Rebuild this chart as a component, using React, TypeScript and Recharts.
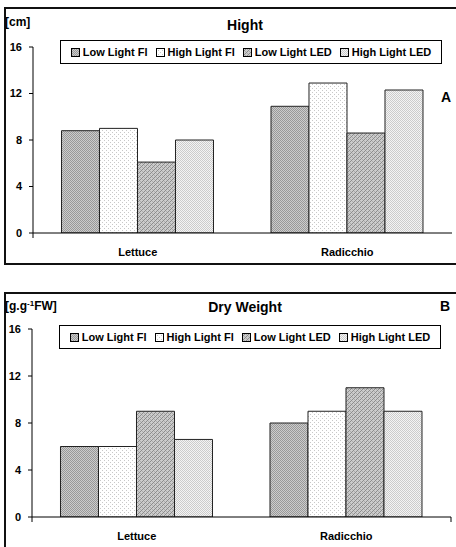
import React from "react";
import { BarChart, Bar, XAxis, YAxis } from "recharts";

const categories = ["Lettuce", "Radicchio"];
const seriesNames = ["Low Light Fl", "High Light Fl", "Low Light LED", "High Light LED"];
const seriesKeys = ["lowFl", "highFl", "lowLed", "highLed"];
const seriesFills = ["url(#pLowFl)", "url(#pHighFl)", "url(#pLowLed)", "url(#pHighLed)"];

const heightLowFl = [8.8, 10.9];
const heightHighFl = [9.0, 12.9];
const heightLowLed = [6.1, 8.6];
const heightHighLed = [8.0, 12.3];

const dryLowFl = [6.0, 8.0];
const dryHighFl = [6.0, 9.0];
const dryLowLed = [9.0, 11.0];
const dryHighLed = [6.6, 9.0];

const yTicks = [0, 4, 8, 12, 16];
const boundaryTicks = [0, 1, 2];

function buildData(a: number[], b: number[], c: number[], d: number[]) {
  return categories.map((name, i) => ({ name, lowFl: a[i], highFl: b[i], lowLed: c[i], highLed: d[i] }));
}

const heightData = buildData(heightLowFl, heightHighFl, heightLowLed, heightHighLed);
const dryData = buildData(dryLowFl, dryHighFl, dryLowLed, dryHighLed);

const FONT = "'Liberation Sans', Arial, sans-serif";
const tickStyle = { fontFamily: FONT, fontSize: 11, fontWeight: 700, fill: "#000" };

function Patterns() {
  return (
    <svg width={0} height={0} style={{ position: "absolute" }}>
      <defs>
        <pattern id="pLowFl" width={2} height={2} patternUnits="userSpaceOnUse">
          <rect width={2} height={2} fill="#cccccc" />
          <rect x={0} y={0} width={1} height={1} fill="#999999" />
          <rect x={1} y={1} width={1} height={1} fill="#999999" />
        </pattern>
        <pattern id="pHighFl" width={4} height={4} patternUnits="userSpaceOnUse">
          <rect width={4} height={4} fill="#ffffff" />
          <rect x={0} y={0} width={1} height={1} fill="#c8c8c8" />
          <rect x={2} y={2} width={1} height={1} fill="#c8c8c8" />
        </pattern>
        <pattern id="pLowLed" width={4} height={4} patternUnits="userSpaceOnUse">
          <rect width={4} height={4} fill="#cccccc" />
          <rect x={0} y={3} width={1} height={1} fill="#8c8c8c" />
          <rect x={1} y={2} width={1} height={1} fill="#8c8c8c" />
          <rect x={2} y={1} width={1} height={1} fill="#8c8c8c" />
          <rect x={3} y={0} width={1} height={1} fill="#8c8c8c" />
          <rect x={0} y={1} width={1} height={1} fill="#acacac" />
          <rect x={2} y={3} width={1} height={1} fill="#acacac" />
        </pattern>
        <pattern id="pHighLed" width={2} height={2} patternUnits="userSpaceOnUse">
          <rect width={2} height={2} fill="#f4f4f4" />
          <rect x={0} y={0} width={1} height={1} fill="#cccccc" />
          <rect x={1} y={1} width={1} height={1} fill="#cccccc" />
        </pattern>
      </defs>
    </svg>
  );
}

function LegendBox({ left, top }: { left: number; top: number }) {
  return (
    <div
      style={{
        position: "absolute",
        left,
        top,
        width: 382,
        height: 24,
        boxSizing: "border-box",
        border: "1px solid #000",
        display: "flex",
        alignItems: "center",
        justifyContent: "center",
        gap: 8,
        fontFamily: FONT,
        fontSize: 11,
        fontWeight: 700,
        background: "#fff",
      }}
    >
      {seriesNames.map((n, i) => (
        <span key={n} style={{ display: "flex", alignItems: "center", whiteSpace: "nowrap" }}>
          <svg width={9} height={9} style={{ marginRight: 3 }}>
            <rect x={0.5} y={0.5} width={8} height={8} fill={seriesFills[i]} stroke="#000" strokeWidth={1} />
          </svg>
          {n}
        </span>
      ))}
    </div>
  );
}

function Panel({
  data,
  width,
  height,
  top,
  marginTop,
  marginBottom,
  yWidth,
  marginRight,
}: {
  data: any[];
  width: number;
  height: number;
  top: number;
  marginTop: number;
  marginBottom: number;
  yWidth: number;
  marginRight: number;
}) {
  return (
    <div style={{ position: "absolute", left: 0, top }}>
      <BarChart
        width={width}
        height={height}
        data={data}
        margin={{ top: marginTop, bottom: marginBottom, left: 0, right: marginRight }}
        barCategoryGap="13.6%"
        barGap={0}
      >
        <XAxis
          xAxisId="a"
          type="number"
          domain={[0, 2]}
          ticks={boundaryTicks}
          allowDataOverflow
          height={1}
          axisLine={{ stroke: "#000", strokeWidth: 1 }}
          tickLine={{ stroke: "#000", strokeWidth: 1 }}
          tickSize={5}
          tickFormatter={() => ""}
        />
        <XAxis
          xAxisId="b"
          dataKey="name"
          height={29}
          tickLine={false}
          tickSize={0}
          tickMargin={14}
          axisLine={false}
          tick={tickStyle}
          interval={0}
        />
        <YAxis
          width={yWidth}
          domain={[0, 16]}
          ticks={yTicks}
          tickSize={4}
          tickMargin={7}
          axisLine={{ stroke: "#000", strokeWidth: 1 }}
          tickLine={{ stroke: "#000", strokeWidth: 1 }}
          tick={tickStyle}
          allowDataOverflow
        />
        {seriesKeys.map((k, i) => (
          <Bar
            key={k}
            xAxisId="b"
            dataKey={k}
            name={seriesNames[i]}
            fill={seriesFills[i]}
            stroke="#222"
            strokeWidth={1}
            isAnimationActive={false}
          />
        ))}
      </BarChart>
    </div>
  );
}

const labelBase: React.CSSProperties = {
  position: "absolute",
  fontFamily: FONT,
  fontWeight: 700,
  color: "#000",
  whiteSpace: "nowrap",
  lineHeight: 1,
};

export default function App() {
  return (
    <div
      style={{
        position: "absolute",
        left: 0,
        top: 0,
        width: 456,
        height: 547,
        overflow: "hidden",
        background: "#fff",
      }}
    >
      <Patterns />
      <div
        style={{
          position: "absolute",
          left: 4,
          top: 7,
          width: 470,
          height: 258,
          boxSizing: "border-box",
          border: "2px solid #111",
        }}
      />
      <div
        style={{
          position: "absolute",
          left: 4,
          top: 292,
          width: 470,
          height: 280,
          boxSizing: "border-box",
          border: "2px solid #111",
        }}
      />

      <Panel data={heightData} width={456} height={270} top={0} marginTop={47} marginBottom={7} yWidth={33} marginRight={4} />
      <Panel data={dryData} width={456} height={267} top={280} marginTop={49} marginBottom={0} yWidth={32} marginRight={5} />

      <LegendBox left={60} top={40} />
      <LegendBox left={59} top={325} />

      <div style={{ ...labelBase, left: 5, top: 16, fontSize: 12 }}>[cm]</div>
      <div style={{ ...labelBase, left: 245, top: 18, fontSize: 14, transform: "translateX(-50%)" }}>Hight</div>
      <div style={{ ...labelBase, left: 441, top: 90, fontSize: 14 }}>A</div>

      <div style={{ ...labelBase, left: 5, top: 300, fontSize: 12 }}>
        [g.g<sup style={{ fontSize: 8, verticalAlign: "4px", lineHeight: 0 }}>-1</sup>FW]
      </div>
      <div style={{ ...labelBase, left: 245, top: 300, fontSize: 14, transform: "translateX(-50%)" }}>Dry Weight</div>
      <div style={{ ...labelBase, left: 440, top: 299, fontSize: 14 }}>B</div>
    </div>
  );
}
